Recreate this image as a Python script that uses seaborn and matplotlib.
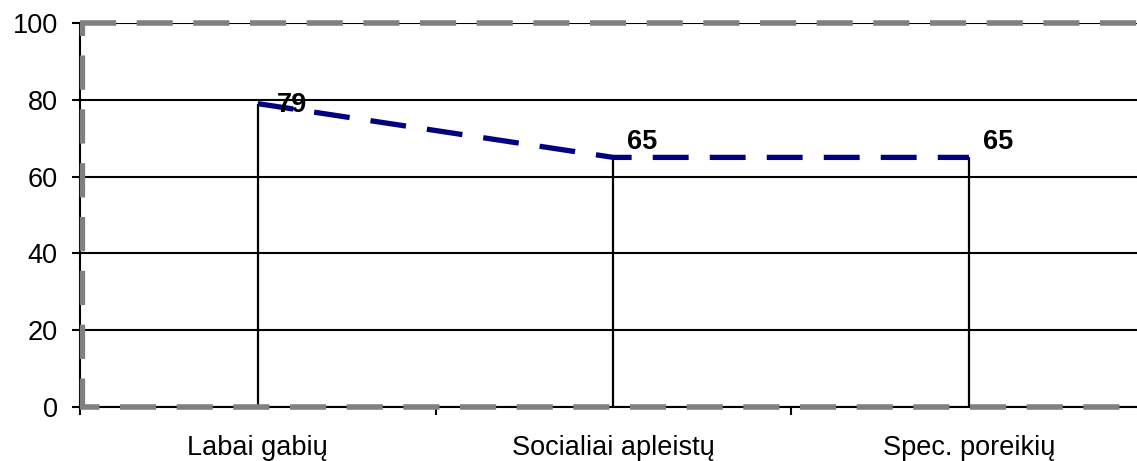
import matplotlib
matplotlib.use("Agg")
import matplotlib.pyplot as plt
import seaborn as sns
import pandas as pd

categories = ["Labai gabių", "Socialiai apleistų", "Spec. poreikių"]
values = [79, 65, 65]
y_ticks = [0, 20, 40, 60, 80, 100]

# label offsets (pixels) – styling only
label_offsets = [(19, -1), (14, 15), (14, 15)]

sns.set_style("white")
plt.rcParams["font.family"] = ["Liberation Sans", "DejaVu Sans"]
plt.rcParams["text.color"] = "black"
plt.rcParams["xtick.color"] = "black"
plt.rcParams["ytick.color"] = "black"
plt.rcParams["xtick.labelcolor"] = "black"
plt.rcParams["ytick.labelcolor"] = "black"

df = pd.DataFrame({"cat": categories, "val": values})

fig = plt.figure(figsize=(11.37, 4.61), dpi=100)
ax = fig.add_axes([80 / 1137, 54 / 461, 1057 / 1137, 384 / 461])

# grid lines (black)
for yv in y_ticks:
    ax.axhline(yv, color="black", lw=1.5, zorder=1)

# drop lines
ax.vlines(range(len(categories)), 0, values, color="black", lw=1.6, zorder=2)

# main dashed line
sns.lineplot(data=df, x="cat", y="val", sort=False, color="#000080",
             lw=3.8, linestyle=(0, (6.8, 4.0)), ax=ax, zorder=3)

# gray dashed border
ax.axhline(100, color="#808080", lw=4, linestyle=(0, (6.5, 3.7)), zorder=4, clip_on=False)
ax.axhline(0, color="#808080", lw=4, linestyle=(3, (6.5, 3.7)), zorder=4, clip_on=False)
ax.axvline(-0.5 + 0.006, color="#808080", lw=3.8, linestyle=(1, (6.5, 3.7)), zorder=4, clip_on=False)

# data labels
for i, (v, off) in enumerate(zip(values, label_offsets)):
    ax.annotate(str(v), (i, v), xytext=off, textcoords="offset pixels",
                ha="left", va="center", fontsize=19.5, fontweight="bold",
                color="black", zorder=5)

ax.set_xlim(-0.5, 2.4726)
ax.set_ylim(0, 100)
ax.set_yticks(y_ticks)
ax.set_xticks(range(len(categories)))
ax.set_xticklabels(categories)
ax.set_xticks([-0.5, 0.5, 1.5], minor=True)
ax.set_xlabel("")
ax.set_ylabel("")

ax.tick_params(axis="y", which="major", length=6, width=1.5, direction="out",
               color="black", labelcolor="black", labelsize=19.5, pad=10, left=True)
ax.tick_params(axis="x", which="major", length=0, labelsize=19.5, pad=20,
               labelcolor="black")
ax.tick_params(axis="x", which="minor", length=6, width=1.5, direction="out",
               color="black", bottom=True)

for side in ["top", "right"]:
    ax.spines[side].set_visible(False)
for side in ["left", "bottom"]:
    ax.spines[side].set_visible(True)
    ax.spines[side].set_color("black")
    ax.spines[side].set_linewidth(1.5)
    ax.spines[side].set_zorder(3.5)

fig.savefig("out.png", dpi=100)
